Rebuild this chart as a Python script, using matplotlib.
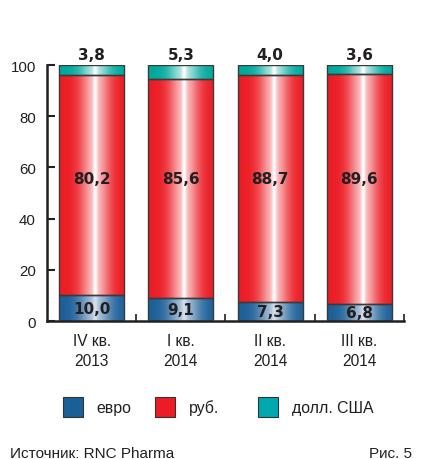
import numpy as np
import matplotlib
matplotlib.use("Agg")
import matplotlib.pyplot as plt
from matplotlib.colors import to_rgb
from matplotlib.patches import Rectangle

categories = ["IV кв.\n2013", "I кв.\n2014", "II кв.\n2014", "III кв.\n2014"]
euro = [10.0, 9.1, 7.3, 6.8]
rub = [80.2, 85.6, 88.7, 89.6]
usd = [3.8, 5.3, 4.0, 3.6]
legend_labels = ["евро", "руб.", "долл. США"]
yticks = [0, 20, 40, 60, 80, 100]

plt.rcParams['font.family'] = ['Liberation Sans', 'DejaVu Sans']

c_euro = "#1b5f98"
c_rub = "#ec1c24"
c_usd = "#00a99d"
c_text = "#231f20"

fig = plt.figure(figsize=(4.23, 4.60), dpi=100)
ax = fig.add_axes([0.111, 0.30, 0.844, 0.5565])
ax.set_xlim(-0.5, 3.5)
ax.set_ylim(0, 100)

def grad_img(base, center=0.55):
    t = np.linspace(0, 1, 200)
    w = 0.72 * np.exp(-((t - center) / 0.22) ** 2) + 0.28 * np.exp(-((t - center) / 0.035) ** 2)
    w = np.clip(w, 0, 1)
    b = np.array(to_rgb(base))
    img = b[None, :] * (1 - w[:, None]) + np.ones(3)[None, :] * w[:, None]
    return img[None, :, :]

def grad_img_blue(base, light="#d5dfec", center=0.55):
    t = np.linspace(0, 1, 200)
    w = 0.78 * np.exp(-((t - center) / 0.24) ** 2) + 0.22 * np.exp(-((t - center) / 0.04) ** 2)
    w = np.clip(w, 0, 1)
    b = np.array(to_rgb(base)); l = np.array(to_rgb(light))
    img = b[None, :] * (1 - w[:, None]) + l[None, :] * w[:, None]
    return img[None, :, :]

width = 0.73
x = np.arange(len(categories))
rub_drawn = [100 - e - u for e, u in zip(euro, usd)]

def gbar(xc, bottom, height, img):
    bars = ax.bar([xc], [height], width=width, bottom=[bottom], facecolor="none",
                  edgecolor="#3a3a3a", linewidth=1.0, zorder=3)
    r = bars[0]
    im = ax.imshow(img, extent=[xc - width / 2, xc + width / 2, bottom, bottom + height],
                   aspect="auto", zorder=2, interpolation="bilinear")
    im.set_clip_path(r)

bold_font = dict(family=["DejaVu Sans"], fontsize=11, fontweight="bold", color=c_text)
fmt = lambda v: f"{v:.1f}".replace(".", ",")
for i in range(len(categories)):
    gbar(x[i], 0, euro[i], grad_img_blue(c_euro))
    gbar(x[i], euro[i], rub_drawn[i], grad_img(c_rub))
    gbar(x[i], euro[i] + rub_drawn[i], usd[i], grad_img(c_usd))
    ax.text(x[i], euro[i] / 2, fmt(euro[i]), ha="center", va="center", zorder=5, **bold_font)
    ax.text(x[i], 55.5, fmt(rub[i]), ha="center", va="center", zorder=5, **bold_font)
    ax.text(x[i], 100 + 4.3, fmt(usd[i]), ha="center", va="center", zorder=5,
            clip_on=False, **bold_font)

ax.set_xlim(-0.5, 3.5)
ax.set_ylim(0, 100)

for s in ["top", "right"]:
    ax.spines[s].set_visible(False)
for s in ["left", "bottom"]:
    ax.spines[s].set_linewidth(1.8)
    ax.spines[s].set_color("#231f20")

ax.set_yticks(yticks)
ax.set_yticklabels([str(v) for v in yticks])
ax.tick_params(axis="y", direction="in", length=6, width=1.5, color="#231f20",
               labelsize=10.8, labelcolor=c_text, pad=8)
ax.set_xticks([0.5, 1.5, 2.5, 3.5])
ax.set_xticklabels([])
ax.tick_params(axis="x", direction="in", length=5, width=1.2, color="#231f20")

for i, lab in enumerate(categories):
    ax.text(x[i], -4.6, lab, ha="center", va="top", fontsize=11.2, color=c_text,
            linespacing=1.45, clip_on=False)

# legend
leg_x = [0.149, 0.367, 0.61]
for lx, lab, col in zip(leg_x, legend_labels, [c_euro, c_rub, "#00a8b0"]):
    fig.patches.append(Rectangle((lx, 0.091), 0.047, 0.043, transform=fig.transFigure,
                                 facecolor=col, edgecolor="#333333", linewidth=0.8))
    fig.text(lx + 0.08, 0.112, lab, ha="left", va="center", fontsize=11.4, color=c_text)

fig.text(0.023, 0.014, "Источник: RNC Pharma", ha="left", va="center", fontsize=11, color=c_text)
fig.text(0.975, 0.014, "Рис. 5", ha="right", va="center", fontsize=11, color=c_text)

fig.savefig("out.png", dpi=100)
